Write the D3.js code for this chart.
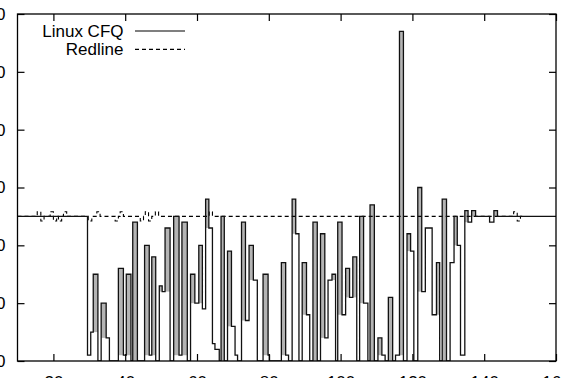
<!DOCTYPE html>
<html>
<head>
<meta charset="utf-8">
<script src="https://cdn.jsdelivr.net/npm/d3@7/dist/d3.min.js"></script>
<style>
  html, body { margin: 0; padding: 0; background: #fff; }
  svg { display: block; }
  text { font-family: "Liberation Sans", Arial, Helvetica, sans-serif; }
</style>
</head>
<body>
<svg id="chart" width="562" height="378"></svg>
<script>
// ---- data ----
const xTicks = [20, 40, 60, 80, 100, 120, 140, 160];
const yTicks = [0, 10, 20, 30, 40, 50, 60];
const seriesNames = ["Linux CFQ", "Redline"];

// Linux CFQ: step starts (time) and value held until the next step
const cfqTime = [10, 29.5, 30.4, 31.1, 32.4, 33.3, 34.7, 35.6, 38.1, 39.5, 40.3, 41.6, 42.1, 43.4,
  45.4, 46.7, 47.4, 48.5, 49.5, 50.3, 51.1, 52.5, 53.5, 55.0, 55.8, 57.3, 58.2, 59.4, 60.5, 61.5,
  62.4, 63.3, 64.3, 65.0, 66.2, 66.7, 67.6, 68.5, 69.6, 70.6, 71.3, 72.4, 73.5, 74.5, 75.7, 76.8,
  78.4, 79.8, 80.2, 83.5, 84.7, 85.5, 86.5, 87.5, 88.4, 89.3, 90.5, 91.4, 92.3, 93.5, 94.4, 95.6,
  96.5, 97.6, 98.6, 99.2, 100.4, 101.4, 102.5, 103.4, 104.5, 105.3, 106.4, 107.6, 108.2, 109.4,
  110.4, 111.5, 112.4, 113.3, 114.5, 115.3, 116.4, 117.5, 118.5, 119.5, 120.4, 121.5, 122.6, 123.6,
  125.5, 126.7, 127.6, 128.3, 129.5, 130.5, 131.6, 132.5, 133.4, 134.6, 135.5, 136.5, 137.6,
  141.5, 142.7, 143.7, 160];
const cfqFps = [25, 1, 5, 15, 0, 10, 4, 0, 16, 1, 15, 0, 24, 0,
  20, 1, 18, 0, 13, 12, 23, 0, 25, 1, 24, 0, 15, 10, 20, 9,
  28, 23, 3, 2, 0, 25, 0, 19, 6, 1, 0, 24, 7, 20, 14, 0,
  15, 1, 0, 17, 1, 0, 28, 22, 0, 17, 8, 0, 24, 0, 22, 4,
  14, 15, 0, 24, 8, 16, 11, 18, 0, 25, 10, 0, 27, 0,
  4, 1, 0, 11, 0, 1, 57, 0, 22, 19, 0, 30, 12, 23,
  8, 17, 0, 28, 0, 17, 25, 20, 1, 26, 24, 26, 25,
  24, 26, 25, 25];

// Redline
const redTime = [10, 15.5, 16.5, 17.4, 19.1, 20.0, 20.9, 21.4, 22.3, 22.8, 23.7, 29.7, 30.7, 32.1,
  33.0, 37.2, 38.1, 38.6, 39.5, 44.2, 45.1, 45.6, 46.5, 47.4, 48.4, 49.3, 63.4, 64.3, 148.2,
  149.2, 150.1, 151];
const redFps = [25, 25.8, 24.2, 25, 25.8, 24.2, 25, 24.2, 25, 25.8, 25, 24.2, 25, 25.8,
  25, 24.2, 25, 25.8, 25, 24.2, 25, 25.8, 24.2, 25, 25.8, 25, 25.8, 25, 25.8,
  24.2, 25, 25];

// ---- layout ----
const svg = d3.select("#chart");
const L = 17.5, R = 556, T = 14, B = 361;
const x = d3.scaleLinear().domain([10, 160]).range([L, R]);
const y = d3.scaleLinear().domain([0, 60]).range([B, T]);
const font = 17;

svg.append("defs").append("clipPath").attr("id", "clip")
  .append("rect").attr("x", L).attr("y", T).attr("width", R - L).attr("height", B - T);

const plot = svg.append("g").attr("clip-path", "url(#clip)");

// grey interior of narrow peaks
const cfq = cfqTime.map((t, i) => ({ t, v: cfqFps[i] }));
const peaks = [];
for (let i = 1; i < cfq.length - 1; i++) {
  const prev = cfq[i - 1].v, cur = cfq[i].v, next = cfq[i + 1].v;
  const w = cfq[i + 1].t - cfq[i].t;
  if (cur > prev && cur > next && w <= 1.6) {
    peaks.push({ t0: cfq[i].t, t1: cfq[i + 1].t, top: cur, bot: Math.max(prev, next) });
  }
}
plot.selectAll("rect.peak").data(peaks).enter().append("rect")
  .attr("class", "peak")
  .attr("x", d => x(d.t0))
  .attr("width", d => x(d.t1) - x(d.t0))
  .attr("y", d => y(d.top))
  .attr("height", d => y(d.bot) - y(d.top))
  .attr("fill", "#b4b4b4");

const stepLine = d3.line().x(d => x(d.t)).y(d => y(d.v)).curve(d3.curveStepAfter);

// Redline (dashed)
const red = redTime.map((t, i) => ({ t, v: redFps[i] }));
plot.append("path").datum(red)
  .attr("d", stepLine)
  .attr("fill", "none").attr("stroke", "#000")
  .attr("stroke-width", 1.1).attr("stroke-dasharray", "4,3");

// Linux CFQ (solid)
plot.append("path").datum(cfq)
  .attr("d", stepLine)
  .attr("fill", "none").attr("stroke", "#111")
  .attr("stroke-width", 1.3);

// ---- axes (ticks inward, mirrored) ----
function styleAxis(g, labels) {
  g.select(".domain").remove();
  g.selectAll(".tick line").attr("stroke", "#000").attr("stroke-width", 1.2);
  g.selectAll(".tick text").attr("font-size", font).attr("fill", "#000")
    .attr("font-family", '"Liberation Sans", Arial, sans-serif');
  if (!labels) g.selectAll(".tick text").remove();
}
svg.append("g").attr("transform", `translate(0,${B})`)
  .call(d3.axisBottom(x).tickValues(xTicks).tickSize(-7).tickPadding(15).tickFormat(d3.format("d")))
  .call(g => styleAxis(g, true));
svg.append("g").attr("transform", `translate(0,${T})`)
  .call(d3.axisTop(x).tickValues(xTicks).tickSize(-7))
  .call(g => styleAxis(g, false));
svg.append("g").attr("transform", `translate(${L},0)`)
  .call(d3.axisLeft(y).tickValues(yTicks).tickSize(-7).tickPadding(12).tickFormat(d3.format("d")))
  .call(g => styleAxis(g, true));
svg.append("g").attr("transform", `translate(${R},0)`)
  .call(d3.axisRight(y).tickValues(yTicks).tickSize(-7))
  .call(g => styleAxis(g, false));

// frame
svg.append("rect").attr("x", L).attr("y", T).attr("width", R - L).attr("height", B - T)
  .attr("fill", "none").attr("stroke", "#000").attr("stroke-width", 1.3);

// ---- legend ----
const legend = svg.append("g");
const legendRows = [
  { name: seriesNames[0], base: 36.7, ly: 31, dash: null },
  { name: seriesNames[1], base: 55, ly: 49.3, dash: "4,3" }
];
legendRows.forEach(r => {
  legend.append("text").attr("x", 123.5).attr("y", r.base)
    .attr("text-anchor", "end").attr("font-size", font).attr("fill", "#000").text(r.name);
  legend.append("line").attr("x1", 135).attr("x2", 185).attr("y1", r.ly).attr("y2", r.ly)
    .attr("stroke", "#000").attr("stroke-width", 1.2)
    .attr("stroke-dasharray", r.dash);
});
</script>
</body>
</html>
